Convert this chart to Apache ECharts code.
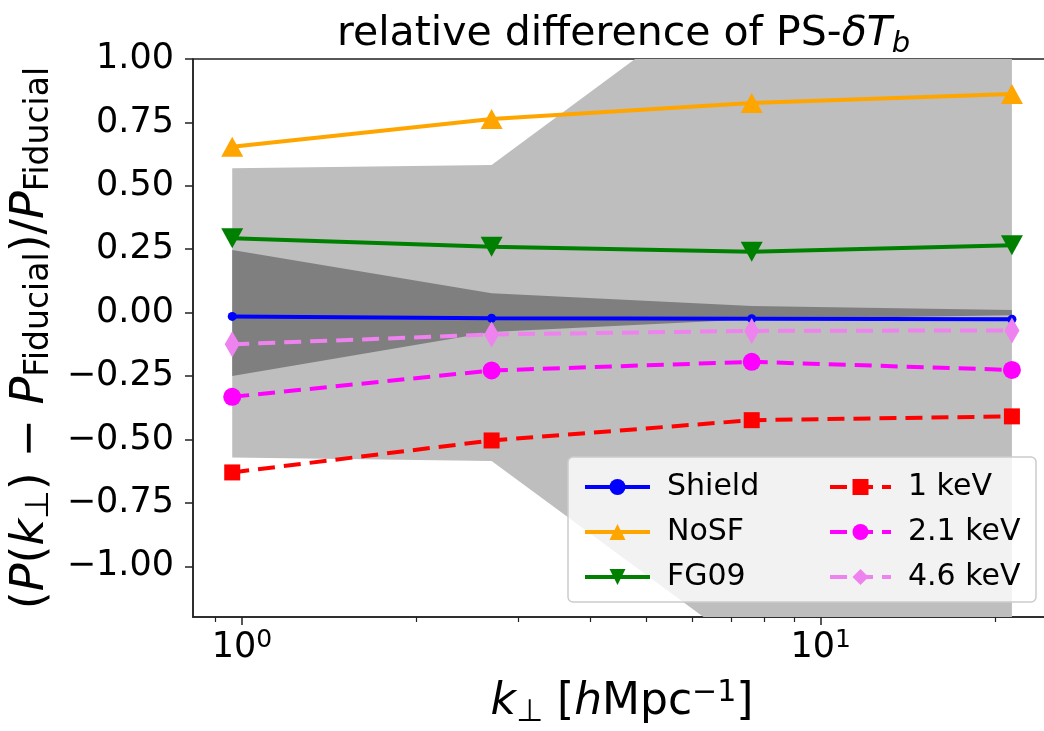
<!DOCTYPE html>
<html>
<head>
<meta charset="utf-8">
<script src="https://cdn.jsdelivr.net/npm/echarts@6/dist/echarts.min.js"></script>
<style>
  html, body { margin: 0; padding: 0; background: #ffffff; }
  #chart { width: 1044px; height: 731px; }
</style>
</head>
<body>
<div id="chart"></div>
<script>
// k_perp sample points [h/Mpc]
const kPerp = [0.962, 2.70, 7.60, 21.4];

// relative difference of the power spectrum w.r.t. the fiducial run
const shield = [-0.015, -0.022, -0.024, -0.026];
const noSF   = [0.654, 0.763, 0.827, 0.862];
const fg09   = [0.293, 0.260, 0.240, 0.266];
const keV1   = [-0.630, -0.504, -0.424, -0.409];
const keV21  = [-0.332, -0.228, -0.194, -0.226];
const keV46  = [-0.125, -0.086, -0.072, -0.070];

// shaded uncertainty envelopes
const wideLower   = [-0.571, -0.585, -1.34, -1.45];
const wideUpper   = [0.569, 0.582, 1.34, 1.45];
const narrowLower = [-0.250, -0.076, -0.026, -0.010];
const narrowUpper = [0.247, 0.076, 0.026, 0.010];

// axis ticks
const yTicks = [-1, -0.75, -0.5, -0.25, 0, 0.25, 0.5, 0.75, 1];
const xMajorTicks = [1, 10];
const xMinorTicks = [0.9, 2, 3, 4, 5, 6, 7, 8, 9, 20];

const FONT = 'DejaVu Sans';
const X_MIN = 0.823, X_MAX = 25.0;

function pairs(ys) {
  return kPerp.map((k, i) => [k, ys[i]]);
}

// filled envelope between a lower and an upper curve
function band(name, lower, upper, color) {
  return {
    type: 'custom', name: name, clip: true, silent: true, z: 1,
    data: kPerp.map((k, i) => [k, lower[i], upper[i]]),
    encode: { x: 0, y: [1, 2] },
    renderItem: (params, api) => {
      if (params.dataIndex !== 0) return null;
      const top = kPerp.map((k, i) => api.coord([k, upper[i]]));
      const bottom = kPerp.map((k, i) => api.coord([k, lower[i]])).reverse();
      return {
        type: 'polygon',
        shape: { points: top.concat(bottom) },
        style: { fill: color, stroke: null }
      };
    }
  };
}

function curve(name, ys, color, symbol, size, dashed, rotate) {
  return {
    type: 'line', name: name, data: pairs(ys),
    symbol: symbol, symbolSize: size, symbolRotate: rotate || 0,
    showSymbol: true, showAllSymbol: true,
    itemStyle: { color: color, borderWidth: 0 },
    lineStyle: { color: color, width: 4, type: dashed ? [17, 9] : 'solid', cap: 'butt' },
    z: 3
  };
}

const subStyle = { fontFamily: FONT, fontSize: 31, lineHeight: 22, verticalAlign: 'bottom', fontWeight: 'normal', color: '#000' };
const normStyle = { fontFamily: FONT, fontSize: 44, lineHeight: 50, verticalAlign: 'middle', fontWeight: 'normal', color: '#000' };
const italStyle = Object.assign({}, normStyle, { fontStyle: 'italic' });
const ySub = Object.assign({}, subStyle, { fontSize: 33 });
const yNorm = Object.assign({}, normStyle, { fontSize: 46 });
const yItal = Object.assign({}, italStyle, { fontSize: 46 });

const chart = echarts.init(document.getElementById('chart'), null, { renderer: 'canvas' });

chart.setOption({
  animation: false,
  backgroundColor: '#ffffff',
  title: {
    text: '{n|relative difference of PS-}{i|δT}{s|b}',
    left: 332, top: 4,
    textStyle: {
      fontWeight: 'normal',
      rich: {
        n: { fontFamily: FONT, fontSize: 41, lineHeight: 50, verticalAlign: 'middle', fontWeight: 'normal', color: '#000' },
        i: { fontFamily: FONT, fontSize: 41, lineHeight: 50, verticalAlign: 'middle', fontWeight: 'normal', fontStyle: 'italic', color: '#000' },
        s: { fontFamily: FONT, fontSize: 29, lineHeight: 24, verticalAlign: 'bottom', fontWeight: 'normal', fontStyle: 'italic', color: '#000' }
      }
    }
  },
  grid: {
    left: 193, top: 59, right: -7, bottom: 114,
    outerBoundsMode: 'none',
    show: true, borderColor: '#222', borderWidth: 1.5, backgroundColor: 'transparent'
  },
  xAxis: [
    {
      type: 'log', logBase: 10, min: X_MIN, max: X_MAX,
      name: '{i|k}{s|⊥}{n| [}{i|h}{n|Mpc}{p|−1}{n|]}',
      nameLocation: 'middle', nameGap: 61,
      nameTextStyle: {
        rich: {
          n: normStyle, i: italStyle, s: subStyle,
          p: { fontFamily: FONT, fontSize: 30, lineHeight: 24, verticalAlign: 'top', color: '#000' }
        }
      },
      axisLine: { show: true, onZero: false, lineStyle: { color: '#222', width: 1.5 } },
      axisTick: { show: true, inside: false, length: 8, customValues: xMajorTicks, lineStyle: { color: '#222', width: 1.5 } },
      axisLabel: {
        show: true, margin: 11, customValues: xMajorTicks,
        formatter: v => '{b|10}{p|' + Math.round(Math.log10(v)) + '}',
        rich: {
          b: { fontFamily: FONT, fontSize: 35, lineHeight: 40, verticalAlign: 'middle', color: '#000' },
          p: { fontFamily: FONT, fontSize: 25, lineHeight: 22, verticalAlign: 'top', color: '#000' }
        }
      },
      splitLine: { show: false }
    },
    {
      type: 'log', logBase: 10, min: X_MIN, max: X_MAX, position: 'bottom',
      axisLine: { show: false, onZero: false },
      axisTick: { show: true, inside: false, length: 5, customValues: xMinorTicks, lineStyle: { color: '#222', width: 1.2 } },
      axisLabel: { show: false },
      splitLine: { show: false }
    }
  ],
  yAxis: {
    type: 'value', min: -1.2, max: 1.0,
    name: '{n|(}{i|P}{n|(}{i|k}{s|⊥}{n|) − }{i|P}{s|Fiducial}{n|)/}{i|P}{s|Fiducial}',
    nameLocation: 'middle', nameRotate: 90, nameGap: 136,
    nameTextStyle: { rich: { n: yNorm, i: yItal, s: ySub } },
    axisLine: { show: true, onZero: false, lineStyle: { color: '#222', width: 1.5 } },
    axisTick: { show: true, inside: false, length: 8, customValues: yTicks, lineStyle: { color: '#222', width: 1.5 } },
    axisLabel: {
      show: true, margin: 19, customValues: yTicks,
      fontFamily: FONT, fontSize: 35, color: '#000',
      formatter: v => (v < 0 ? '−' : '') + Math.abs(v).toFixed(2)
    },
    splitLine: { show: false }
  },
  legend: [
    {
      data: ['Shield', 'NoSF', 'FG09'],
      orient: 'vertical', left: 578, top: 467,
      itemWidth: 65, itemHeight: 20, itemGap: 15,
      lineStyle: { width: 4 },
      textStyle: { fontFamily: FONT, fontSize: 30, lineHeight: 30, color: '#000', padding: [0, 0, 0, 12] },
      selectedMode: false, z: 10
    },
    {
      data: ['1 keV', '2.1 keV', '4.6 keV'],
      orient: 'vertical', left: 823, top: 467,
      itemWidth: 61, itemHeight: 20, itemGap: 15,
      lineStyle: { width: 4 },
      textStyle: { fontFamily: FONT, fontSize: 30, lineHeight: 30, color: '#000', padding: [0, 0, 0, 12] },
      selectedMode: false, z: 10
    }
  ],
  graphic: [
    {
      type: 'rect', z: 9,
      shape: { x: 568, y: 457, width: 468, height: 145, r: 5 },
      style: { fill: 'rgba(255,255,255,0.8)', stroke: '#cccccc', lineWidth: 1.5 }
    }
  ],
  series: [
    band('wide envelope', wideLower, wideUpper, '#bebebe'),
    band('narrow envelope', narrowLower, narrowUpper, '#7f7f7f'),
    curve('Shield', shield, '#0000ff', 'circle', 9, false),
    curve('NoSF', noSF, '#ffa500', 'triangle', [22, 20], false),
    curve('FG09', fg09, '#008000', 'triangle', [22, 20], false, 180),
    curve('1 keV', keV1, '#ff0000', 'rect', 16, true),
    curve('2.1 keV', keV21, '#ff00ff', 'circle', 18, true),
    curve('4.6 keV', keV46, '#ee82ee', 'diamond', [15, 26], true)
  ]
});
</script>
</body>
</html>
